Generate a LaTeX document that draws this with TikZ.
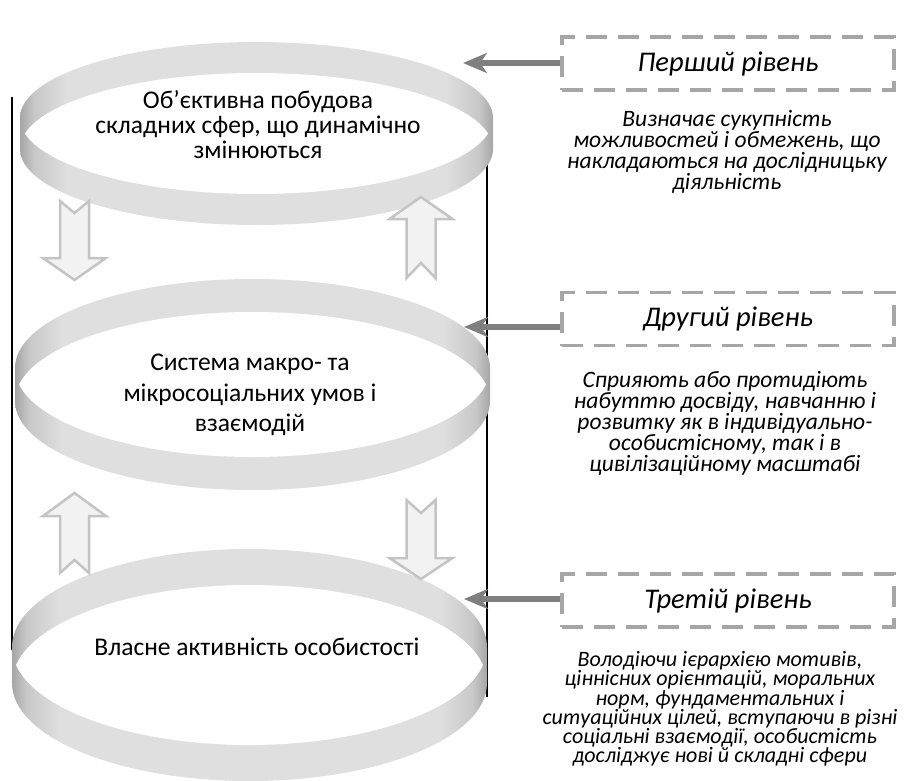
\documentclass[tikz,border=0pt]{standalone}
\usepackage{fontspec}
\setmainfont{Carlito}
\usetikzlibrary{arrows.meta}
\definecolor{rlight}{HTML}{DFDFDF}
\definecolor{rmid}{HTML}{C8C8C8}
\definecolor{rdark}{HTML}{A6A6A6}
\definecolor{bafill}{HTML}{F2F2F2}
\definecolor{badraw}{HTML}{C4C4C4}
\definecolor{boxgray}{HTML}{A6A6A6}
\definecolor{conngray}{HTML}{7F7F7F}
\pgfdeclarehorizontalshading{ringshade}{100bp}{color(0bp)=(rdark); color(25bp)=(rdark); color(26.5bp)=(rmid); color(30bp)=(rlight); color(70bp)=(rlight); color(73.5bp)=(rmid); color(75bp)=(rdark); color(100bp)=(rdark)}
\newcommand\drawring[5]{%
  \shade[shading=ringshade] ({#1-#4},#2) arc[start angle=180,end angle=360,x radius=#4,y radius=#5] -- ({#1+#4},#3) arc[start angle=0,end angle=180,x radius=#4,y radius=#5] -- cycle;
  \begin{scope}
    \clip (#1,#2) ellipse[x radius=#4,y radius=#5];
    \fill[white] (#1,#3) ellipse[x radius=#4,y radius=#5];
  \end{scope}}
% down block arrow: cx, tail top, notch depth, head base, tip
\newcommand\blkdown[5]{%
  \draw[blockarrow] ({#1-14.5},#2) -- (#1,{#2+#3}) -- ({#1+14.5},#2) -- ({#1+14.5},#4) -- ({#1+31.5},#4) -- (#1,#5) -- ({#1-31.5},#4) -- ({#1-14.5},#4) -- cycle;}
% up block arrow: cx, tail bottom, notch height, head base, tip
\newcommand\blkup[5]{%
  \draw[blockarrow] ({#1-14.5},#2) -- (#1,{#2-#3}) -- ({#1+14.5},#2) -- ({#1+14.5},#4) -- ({#1+31.5},#4) -- (#1,#5) -- ({#1-31.5},#4) -- ({#1-14.5},#4) -- cycle;}
\tikzset{
  blockarrow/.style={fill=bafill, draw=badraw, line width=2.5pt, line join=miter},
  ringtext/.style={align=center, font=\fontsize{25.5}{25}\selectfont, inner sep=0pt},
  dashbox/.style={draw=boxgray, line width=3.5pt, dash pattern=on 21pt off 11pt, minimum width=332pt, minimum height=53pt, inner sep=0pt, font=\itshape\fontsize{28.5}{30}\selectfont},
  desc/.style={align=center, font=\itshape\fontsize{23.5}{18.3}\selectfont, inner sep=0pt},
  conn/.style={draw=conngray, line width=5.5pt, -{Stealth[length=24pt, width=20pt, inset=7pt]}},
  sideline/.style={draw=black, line width=1.2pt}
}
\begin{document}
\begin{tikzpicture}[x=1pt,y=-1pt]
\useasboundingbox (0,0) rectangle (907,781);
% side lines of the cylinder
\coordinate (l1) at (12,97);
\coordinate (l2) at (12,650);
\coordinate (r1) at (487,107);
\coordinate (r2) at (487,697);
\draw[sideline] (l1) -- (l2);
\draw[sideline] (r1) -- (r2);
% rings
\drawring{256.5}{118}{149}{236.5}{76}
\drawring{252.5}{368}{401}{237.5}{89}
\drawring{249.5}{647}{683}{237.5}{98}
% block arrows
\blkdown{74.5}{201}{12}{258}{280}
\blkup{421}{278}{15}{219}{197}
\blkup{74.5}{573}{13}{516}{493}
\blkdown{421}{500}{13}{558}{579}
% ring texts
\node[ringtext] (t1) at (258,125) {Об’єктивна побудова\\складних сфер, що динамічно\\змінюються};
\node[ringtext, font=\fontsize{25.5}{30.5}\selectfont] (t2) at (250,395) {Система макро- та\\мікросоціальних умов і\\взаємодій};
\node[ringtext] (t3) at (257,647) {Власне активність особистості};
% level boxes
\node[dashbox] (b1) at (728,63.5) {Перший рівень};
\node[dashbox] (b2) at (728,319) {Другий рівень};
\node[dashbox] (b3) at (728,600.5) {Третій рівень};
% connectors
\coordinate (p1) at (463,63);
\coordinate (p2) at (464,327);
\coordinate (p3) at (464,599);
\draw[conn] (b1.west |- p1) -- (p1);
\draw[conn] (b2.west |- p2) -- (p2);
\draw[conn] (b3.west |- p3) -- (p3);
% descriptions
\node[desc] (d1) at (727,152) {Визначає сукупність\\можливостей і обмежень, що\\накладаються на дослідницьку\\діяльність};
\node[desc, font=\itshape\fontsize{23.5}{19.75}\selectfont] (d2) at (725,423) {Сприяють або протидіють\\набуттю досвіду, навчанню і\\розвитку як в індивідуально-\\особистісному, так і в\\цивілізаційному масштабі};
\node[desc, font=\itshape\fontsize{22}{19.2}\selectfont] (d3) at (720,709) {Володіючи ієрархією мотивів,\\ціннісних орієнтацій, моральних\\норм, фундаментальних і\\ситуаційних цілей, вступаючи в різні\\соціальні взаємодії, особистість\\досліджує нові й складні сфери};
\end{tikzpicture}
\end{document}
